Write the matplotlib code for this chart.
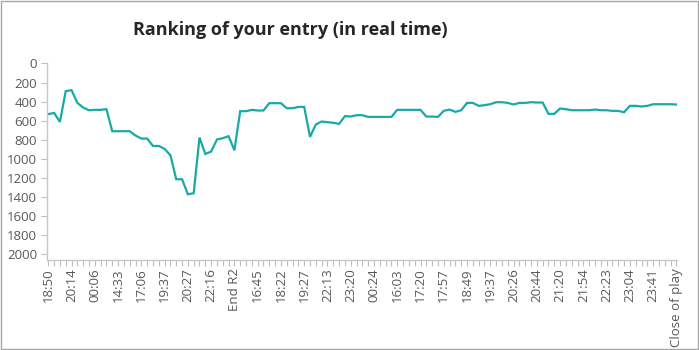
import numpy as np
import matplotlib
matplotlib.use("Agg")
import matplotlib.pyplot as plt
from matplotlib.patches import Rectangle

plt.rcParams["font.family"] = ["Open Sans", "DejaVu Sans"]

# rank at each update (lower is better)
ranks = [531, 518, 612, 290, 280, 413, 462, 490, 486, 486,
         479, 710, 710, 710, 710, 755, 787, 787, 864, 864,
         895, 962, 1213, 1213, 1371, 1360, 776, 948, 923, 797,
         783, 762, 909, 500, 500, 486, 493, 493, 416, 416,
         416, 469, 469, 455, 455, 769, 640, 608, 615, 622,
         633, 552, 556, 542, 542, 560, 560, 560, 560, 560,
         486, 486, 486, 486, 486, 556, 556, 560, 496, 483,
         507, 490, 413, 413, 444, 437, 427, 406, 406, 413,
         430, 413, 413, 406, 409, 409, 528, 528, 472, 479,
         490, 490, 490, 490, 483, 490, 490, 497, 497, 511,
         444, 444, 451, 444, 427, 427, 427, 427, 430]

# every 4th update gets a label
tick_labels = ["18:50", "20:14", "00:06", "14:33", "17:06", "19:37", "20:27",
               "22:16", "End R2", "16:45", "18:22", "19:27", "22:13", "23:20",
               "00:24", "16:03", "17:20", "17:57", "18:49", "19:37", "20:26",
               "20:44", "21:20", "21:54", "22:23", "23:04", "23:41", "Close of play"]
label_step = 4

fig = plt.figure(figsize=(6.99, 3.5), dpi=100)
ax = fig.add_axes([0.067, 0.257, 0.9015, 0.563])

x = np.arange(len(ranks))
ax.plot(x, ranks, color="#17aaa6", linewidth=1.6, solid_joinstyle="miter")

ax.set_xlim(-0.25, len(ranks) - 0.9)
ax.set_ylim(2060, -5)
ax.set_yticks(np.arange(0, 2001, 200))

labels = [""] * len(ranks)
for i, lab in enumerate(tick_labels):
    labels[i * label_step] = lab
ax.set_xticks(x)
ax.set_xticklabels(labels, rotation=90)

for side in ["top", "right"]:
    ax.spines[side].set_visible(False)
for side in ["left", "bottom"]:
    ax.spines[side].set_color("#c8c8c8")
    ax.spines[side].set_linewidth(1.0)

ax.tick_params(axis="both", colors="#c0c0c0", labelcolor="#595959",
               labelsize=9.5, length=4, width=0.8)
ax.tick_params(axis="x", pad=2)
ax.tick_params(axis="y", pad=3)

fig.text(0.416, 0.915, "Ranking of your entry (in real time)", ha="center",
         va="center", fontsize=13, fontweight="bold", color="#262626")

# thin grey frame around the whole figure
fig.patches.append(Rectangle((0.001, 0.002), 0.997, 0.995, transform=fig.transFigure,
                             fill=False, edgecolor="#a6a6a6", linewidth=1.0))

fig.savefig("out.png", dpi=100)
